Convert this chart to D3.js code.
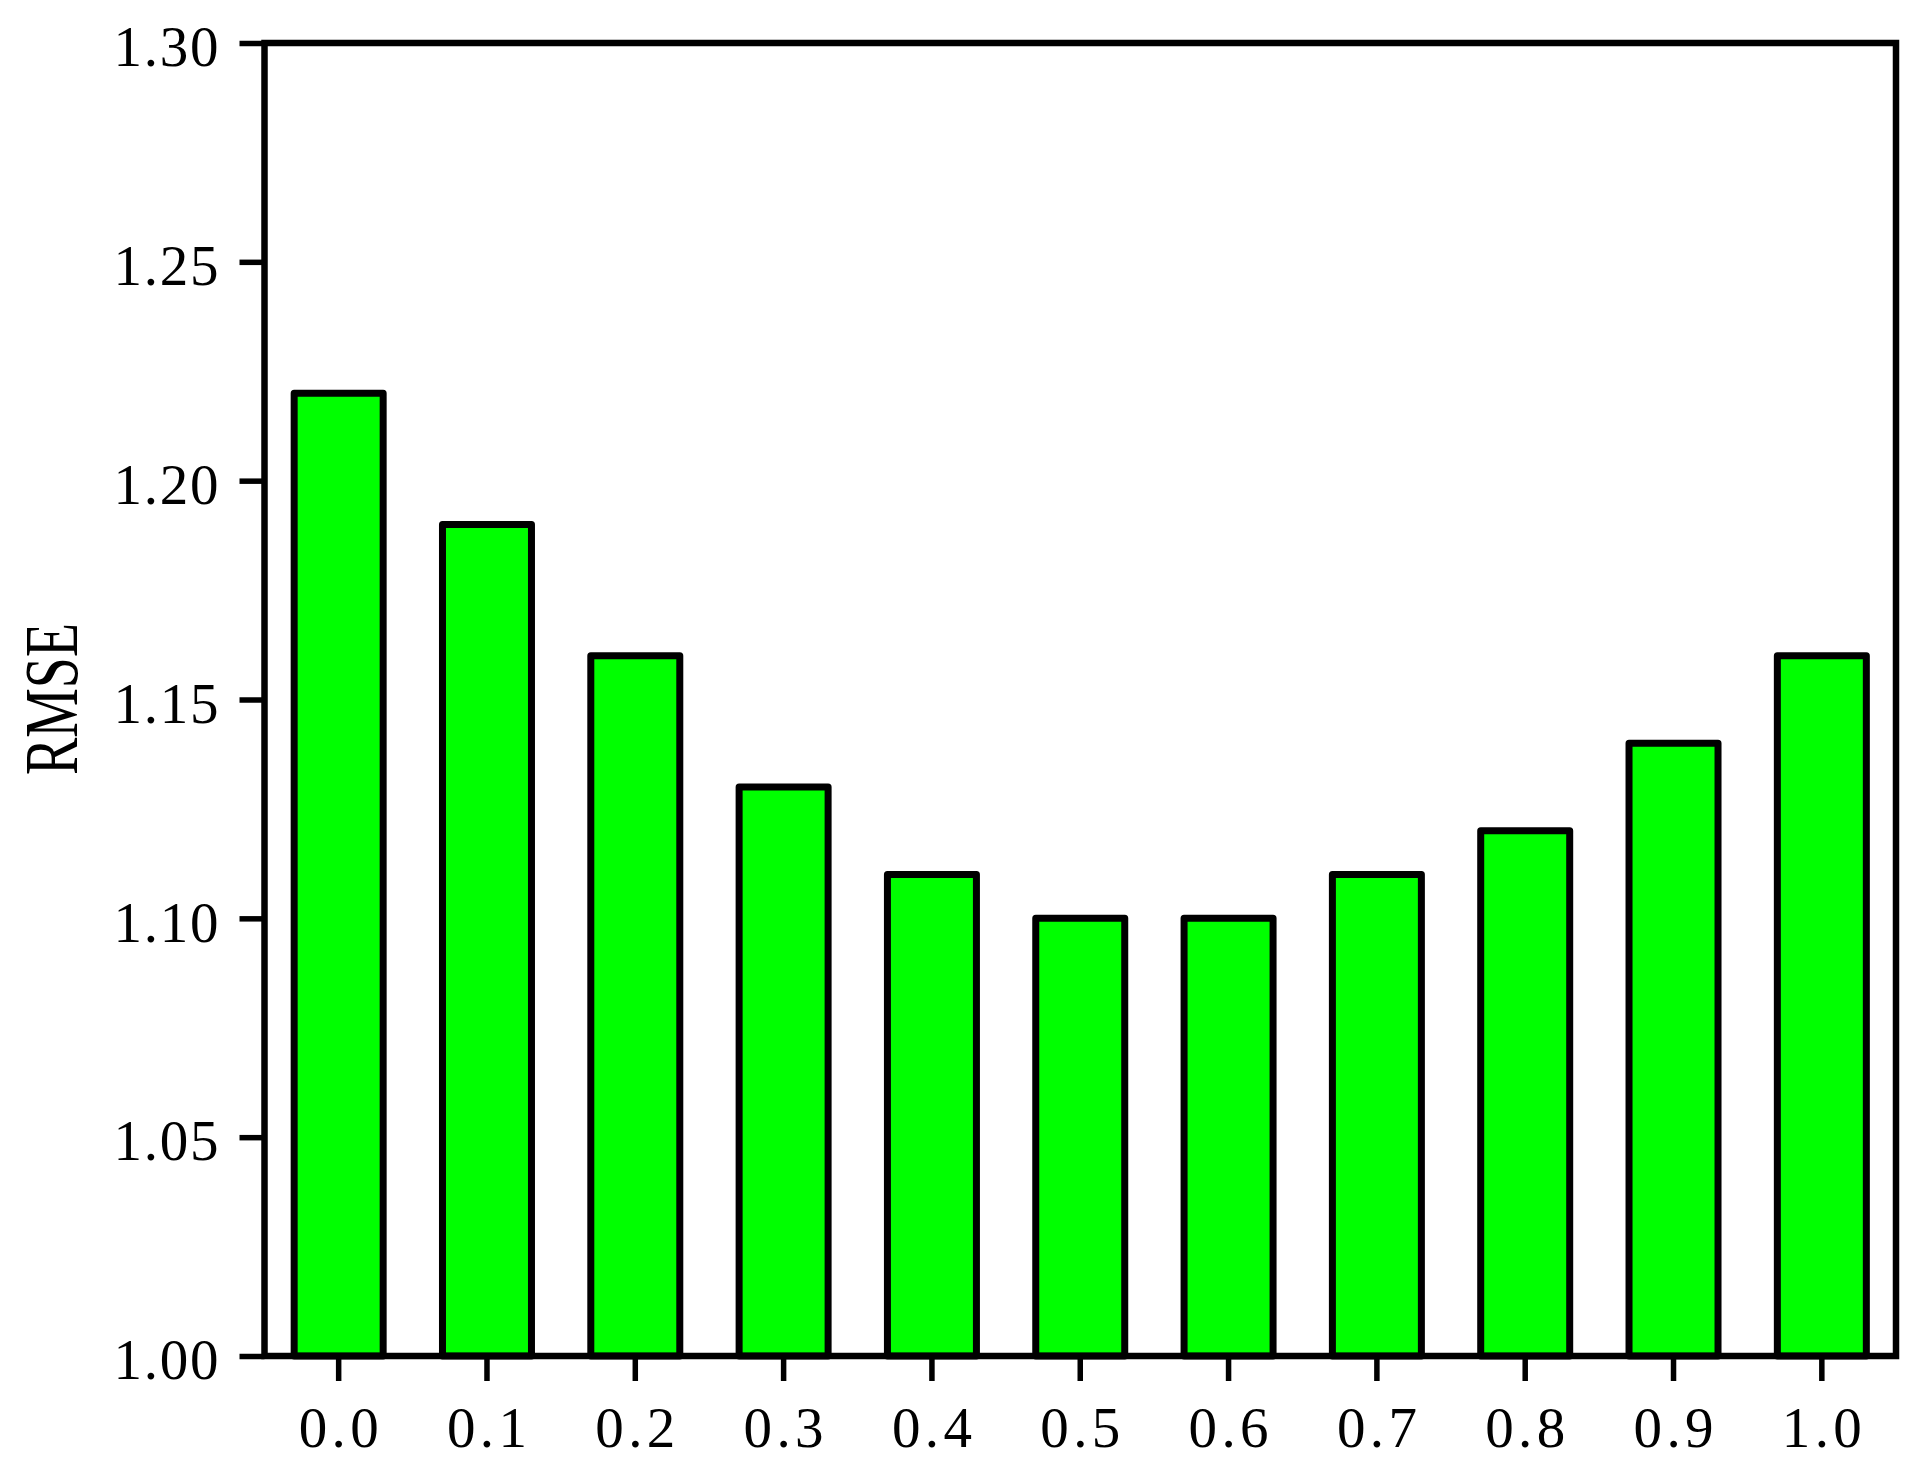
<!DOCTYPE html>
<html>
<head>
<meta charset="utf-8">
<script src="https://cdn.jsdelivr.net/npm/d3@7"></script>
<style>
  html, body { margin: 0; padding: 0; background: #fff; }
  svg { display: block; }
</style>
</head>
<body>
<svg id="chart" width="1929" height="1477"></svg>
<script>
const categories = ["0.0", "0.1", "0.2", "0.3", "0.4", "0.5", "0.6", "0.7", "0.8", "0.9", "1.0"];
const rmseValues = [1.22, 1.19, 1.16, 1.13, 1.11, 1.10, 1.10, 1.11, 1.12, 1.14, 1.16];
const yTicks = [1.00, 1.05, 1.10, 1.15, 1.20, 1.25, 1.30];
const yTickLabels = ["1.00", "1.05", "1.10", "1.15", "1.20", "1.25", "1.30"];
const yLabel = "RMSE";

(function () {
const svg = d3.select("#chart");
const pLeft = 264.5, pRight = 1896, pTop = 43, pBottom = 1356;
const fontFam = "'Liberation Serif', 'DejaVu Serif', serif";

const x = d3.scaleBand().domain(categories).range([pLeft, pRight]).paddingInner(0.4).paddingOuter(0.2);
const y = d3.scaleLinear().domain([1.0, 1.3]).range([pBottom, pTop]);

// bars
svg.append("g").selectAll("rect").data(rmseValues).join("rect")
  .attr("x", (d, i) => x(categories[i]))
  .attr("width", x.bandwidth())
  .attr("y", d => y(d))
  .attr("height", d => y(1.0) - y(d))
  .attr("fill", "#00ff00")
  .attr("stroke", "#000")
  .attr("stroke-width", 7)
  .attr("stroke-linejoin", "round");

// Y axis
const yAxis = svg.append("g").attr("transform", `translate(${pLeft},0)`)
  .call(d3.axisLeft(y).tickValues(yTicks).tickSize(25).tickSizeOuter(0).tickFormat((d, i) => yTickLabels[i]));
yAxis.select(".domain").remove();
yAxis.selectAll(".tick line").attr("stroke", "#000").attr("stroke-width", 5.5);
yAxis.selectAll(".tick text")
  .attr("x", -46)
  .attr("dy", "0.40em")
  .attr("font-family", fontFam)
  .attr("font-size", 57)
  .attr("fill", "#000")
  .attr("textLength", 105)
  .attr("lengthAdjust", "spacing");

// X axis
const xAxis = svg.append("g").attr("transform", `translate(0,${pBottom})`)
  .call(d3.axisBottom(x).tickSize(25).tickSizeOuter(0));
xAxis.select(".domain").remove();
xAxis.selectAll(".tick line").attr("stroke", "#000").attr("stroke-width", 5.5);
xAxis.selectAll(".tick text")
  .attr("y", 0)
  .attr("dy", 0)
  .attr("transform", "translate(0,91)")
  .attr("font-family", fontFam)
  .attr("font-size", 57)
  .attr("fill", "#000")
  .attr("textLength", 80)
  .attr("lengthAdjust", "spacing");

// frame
svg.append("rect")
  .attr("x", pLeft).attr("y", pTop)
  .attr("width", pRight - pLeft).attr("height", pBottom - pTop)
  .attr("fill", "none").attr("stroke", "#000").attr("stroke-width", 6.5);

// y label
svg.append("text")
  .attr("transform", `translate(77,699) rotate(-90)`)
  .attr("text-anchor", "middle")
  .attr("font-family", fontFam)
  .attr("font-size", 76)
  .attr("textLength", 152)
  .attr("lengthAdjust", "spacingAndGlyphs")
  .attr("fill", "#000")
  .text(yLabel);
})();
</script>
</body>
</html>
